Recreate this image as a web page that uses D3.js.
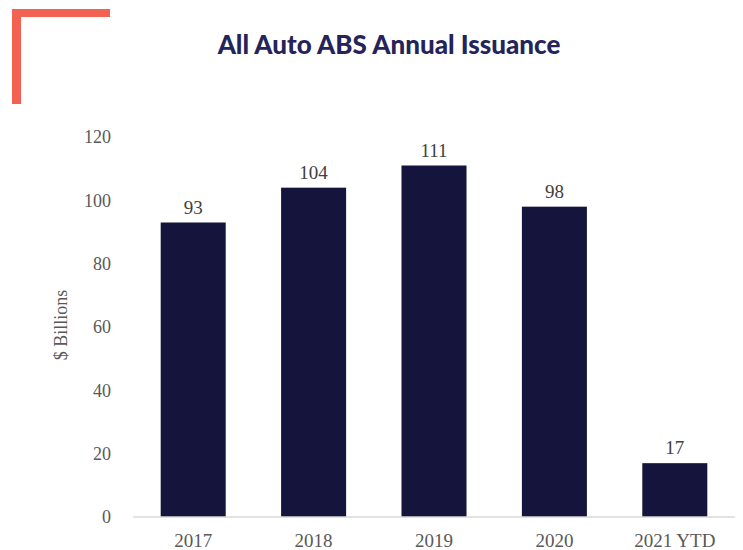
<!DOCTYPE html>
<html>
<head>
<meta charset="utf-8">
<script src="https://d3js.org/d3.v7.min.js"></script>
<style>
  body { margin: 0; background: #fff; }
</style>
</head>
<body>
<script>
// chart data
var years = ["2017", "2018", "2019", "2020", "2021 YTD"];
var issuance = [93, 104, 111, 98, 17];
var yTicks = [0, 20, 40, 60, 80, 100, 120];

function init(){
    var w = 743;
    var h = 550;

    var svg = d3.select("body")
        .append("svg")
        .attr("width", w)
        .attr("height", h);

    // corner accent
    svg.append("rect").attr("x", 12).attr("y", 9).attr("width", 98).attr("height", 8).attr("fill", "#f26151");
    svg.append("rect").attr("x", 12).attr("y", 9).attr("width", 9).attr("height", 95).attr("fill", "#f26151");

    // title
    svg.append("text")
        .attr("x", 389)
        .attr("y", 54)
        .attr("text-anchor", "middle")
        .style("font-family", "Lato, 'Open Sans', sans-serif")
        .style("font-weight", "900")
        .style("font-size", "26px")
        .attr("fill", "#25245a")
        .text("All Auto ABS Annual Issuance");

    var x = d3.scaleBand()
        .domain(years)
        .range([133, 735])
        .paddingInner(0.46)
        .paddingOuter(0.23);

    var y = d3.scaleLinear()
        .domain([0, 120])
        .range([517, 137]);

    var serif = "'Liberation Serif', 'DejaVu Serif', serif";

    // y axis labels (no line)
    var yAxis = svg.append("g")
        .attr("transform", "translate(111,0)")
        .call(d3.axisLeft(y).tickValues(yTicks).tickSize(0).tickPadding(0));
    yAxis.select(".domain").remove();
    yAxis.selectAll("text")
        .style("font-family", serif)
        .style("font-size", "18px")
        .attr("fill", "#595959");

    // bars
    svg.selectAll("rect.bar")
        .data(issuance)
        .enter()
        .append("rect")
        .attr("class", "bar")
        .attr("x", function(d, i){ return x(years[i]); })
        .attr("y", function(d){ return y(d); })
        .attr("width", x.bandwidth())
        .attr("height", function(d){ return y(0) - y(d); })
        .attr("fill", "#14143c");

    // baseline
    svg.append("line")
        .attr("x1", 133).attr("x2", 735)
        .attr("y1", y(0)).attr("y2", y(0))
        .attr("stroke", "#d9d9d9")
        .attr("stroke-width", 1.5);

    // x axis labels
    var xAxis = svg.append("g")
        .attr("transform", "translate(0," + y(0) + ")")
        .call(d3.axisBottom(x).tickSize(0).tickPadding(17));
    xAxis.select(".domain").remove();
    xAxis.selectAll("text")
        .style("font-family", serif)
        .style("font-size", "19px")
        .attr("fill", "#595959");

    // value labels
    svg.selectAll("text.val")
        .data(issuance)
        .enter()
        .append("text")
        .attr("class", "val")
        .attr("x", function(d, i){ return x(years[i]) + x.bandwidth() / 2; })
        .attr("y", function(d){ return y(d) - 9; })
        .attr("text-anchor", "middle")
        .style("font-family", serif)
        .style("font-size", "19px")
        .attr("fill", "#404040")
        .text(function(d){ return d; });

    // y title
    svg.append("text")
        .attr("transform", "translate(67,325) rotate(-90)")
        .attr("text-anchor", "middle")
        .style("font-family", serif)
        .style("font-size", "18px")
        .attr("fill", "#595959")
        .text("$ Billions");
}
window.onload = init;
</script>
</body>
</html>
